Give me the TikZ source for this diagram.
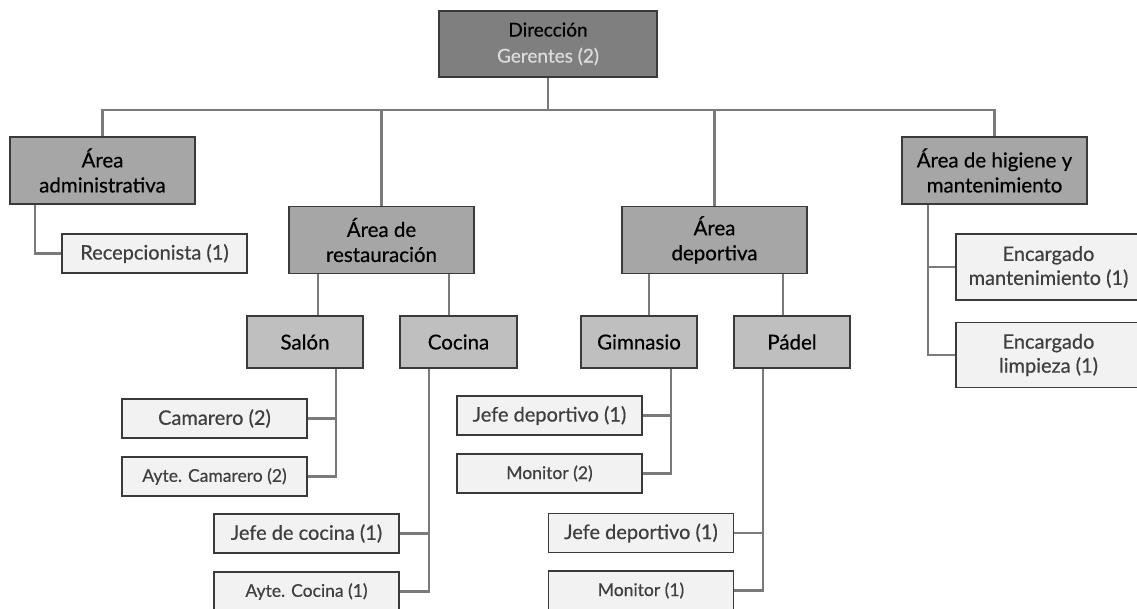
\documentclass[tikz,border=0pt]{standalone}
\usepackage{fontspec}
\setmainfont{Lato}[FakeBold=0.5]
\usetikzlibrary{calc}
\definecolor{topfill}{HTML}{7F7F7F}
\definecolor{areafill}{HTML}{A6A6A6}
\definecolor{subfill}{HTML}{BFBFBF}
\definecolor{leaffill}{HTML}{F2F2F2}
\definecolor{edge}{HTML}{3A3A3A}
\definecolor{linkcol}{HTML}{7A7A7A}
\definecolor{leaftext}{HTML}{3F3F3F}
\definecolor{softtext}{HTML}{DCDCDC}
\tikzset{
  box/.style={draw=edge, line width=1.3pt, align=center, inner sep=0pt, anchor=center},
  topbox/.style={box, fill=topfill, minimum width=218pt, minimum height=66pt, font=\fontsize{19}{26}\selectfont},
  areabox/.style={box, fill=areafill, minimum width=185pt, minimum height=67pt, font=\fontsize{20.5}{25}\selectfont},
  subbox/.style={box, fill=subfill, minimum width=116pt, minimum height=52pt, font=\fontsize{20.5}{24}\selectfont},
  leafbox/.style={box, fill=leaffill, text=leaftext, minimum width=185pt, minimum height=39pt, font=\fontsize{20}{24}\selectfont},
  tallleaf/.style={leafbox, minimum height=66pt},
  smalltext/.style={font=\fontsize{17.5}{21}\selectfont},
  link/.style={draw=linkcol, line width=2.4pt}
}
\begin{document}
\begin{tikzpicture}[x=1pt,y=-1pt]
\useasboundingbox (0,0) rectangle (1137,608);
\clip (0,0) rectangle (1137,608);

% top level
\node[topbox] (dir) at (548,44) {Dirección\\{\color{softtext}Gerentes (2)}};

% areas
\node[areabox] (adm) at (102.5,170.5) {Área\\administrativa};
\node[areabox] (res) at (381.5,240) {Área de\\restauración};
\node[areabox] (dep) at (714.5,240) {Área\\deportiva};
\node[areabox] (hig) at (994.5,170.5) {Área de higiene y\\mantenimiento};

% sections
\node[subbox] (sal) at (305,342) {Salón};
\node[subbox, minimum width=117pt] (coc) at (458.5,342) {Cocina};
\node[subbox] (gim) at (639,342) {Gimnasio};
\node[subbox] (pad) at (792,342) {Pádel};

% staff
\node[leafbox] (rec) at (154.5,253.5) {Recepcionista (1)};
\node[leafbox] (cam) at (214.5,418.5) {Camarero (2)};
\node[leafbox, smalltext] (acam) at (214.5,476.5) {Ayte. Camarero (2)};
\node[leafbox] (jco) at (306.5,533.5) {Jefe de cocina (1)};
\node[leafbox, smalltext] (aco) at (306.5,591.5) {Ayte. Cocina (1)};
\node[leafbox] (jde1) at (549.5,415.5) {Jefe deportivo (1)};
\node[leafbox, smalltext] (mon2) at (549.5,473.5) {Monitor (2)};
\node[leafbox] (jde2) at (641,533) {Jefe deportivo (1)};
\node[leafbox, smalltext] (mon1) at (641,590.5) {Monitor (1)};
\node[tallleaf] (enm) at (1048.5,267) {Encargado\\mantenimiento (1)};
\node[tallleaf, minimum height=65pt] (enl) at (1048.5,355) {Encargado\\limpieza (1)};

% main bus
\coordinate (bus) at (548,110);
\draw[link] (dir.south) -- (bus);
\draw[link] (adm.north) -- (adm.north |- bus) -- (hig.north |- bus) -- (hig.north);
\draw[link] (res.north) -- (res.north |- bus);
\draw[link] (dep.north) -- (dep.north |- bus);

% area to section
\coordinate (a1) at ($(sal.north)+(13,0)$);
\coordinate (a2) at ($(coc.north)+(-9.5,0)$);
\coordinate (a3) at ($(gim.north)+(10,0)$);
\coordinate (a4) at ($(pad.north)+(-9,0)$);
\draw[link] (a1) -- (a1 |- res.south);
\draw[link] (a2) -- (a2 |- res.south);
\draw[link] (a3) -- (a3 |- dep.south);
\draw[link] (a4) -- (a4 |- dep.south);

% administration
\coordinate (b0) at ($(adm.south)+(-67.5,0)$);
\draw[link] (b0) -- (b0 |- rec.west) -- (rec.west);

% dining room
\coordinate (b1) at ($(sal.south)+(31,0)$);
\draw[link] (b1) -- (b1 |- acam.east) -- (acam.east);
\draw[link] (cam.east) -- (cam.east -| b1);

% kitchen
\coordinate (b2) at ($(coc.south)+(-29.5,0)$);
\draw[link] (b2) -- (b2 |- aco.east) -- (aco.east);
\draw[link] (jco.east) -- (jco.east -| b2);

% gym
\coordinate (b3) at ($(gim.south)+(32,0)$);
\draw[link] (b3) -- (b3 |- mon2.east) -- (mon2.east);
\draw[link] (jde1.east) -- (jde1.east -| b3);

% padel
\coordinate (b4) at ($(pad.south)+(-29,0)$);
\draw[link] (b4) -- (b4 |- mon1.east) -- (mon1.east);
\draw[link] (jde2.east) -- (jde2.east -| b4);

% cleaning and maintenance
\coordinate (b5) at ($(hig.south)+(-66.5,0)$);
\draw[link] (b5) -- (b5 |- enl.west) -- (enl.west);
\draw[link] (enm.west) -- (enm.west -| b5);
\end{tikzpicture}
\end{document}
